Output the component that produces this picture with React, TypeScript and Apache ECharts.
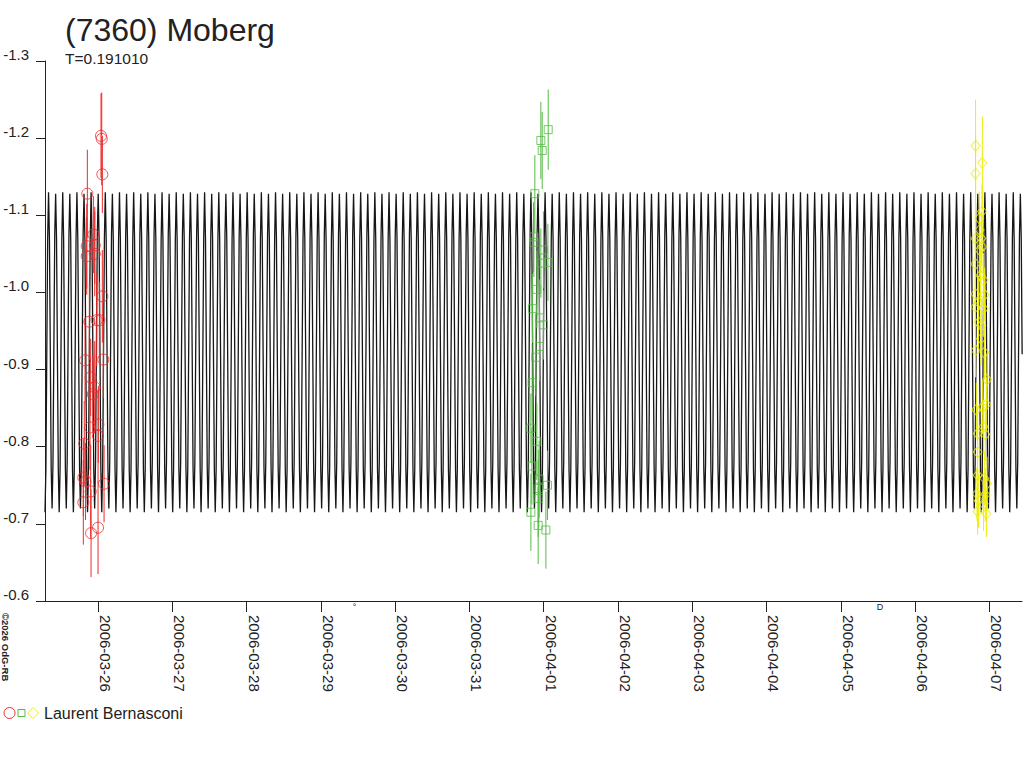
import React, { useEffect, useRef } from "react";
import * as echarts from "echarts";

// Time unit: day number counted from 2006-03-00 (so 32 = 2006-04-01)
const X_MIN = 25.286;
const X_MAX = 38.44;
const TICK_DAYS = [26, 27, 28, 29, 30, 31, 32, 33, 34, 35, 36, 37, 38];
const Y_MIN = -1.3;
const Y_MAX = -0.6;

// Model light curve: period (days) and one period's shape (magnitude)
const PERIOD = 0.19101;
const EPOCH = 25.286;
const CYCLE_SHAPE = [
  -0.715, -0.77, -0.92, -1.07, -1.13, -1.07, -0.92, -0.77,
  -0.72, -0.78, -0.93, -1.075, -1.128, -1.07, -0.92, -0.77,
];

// Session 1 (red circles)
const redTime = [26.05, 26.04, 26.058, 25.856, 25.937, 25.848, 25.956, 25.848, 25.956, 26.058, 25.883, 25.982, 26.018, 25.825, 26.071, 25.901, 25.955, 25.93, 25.892, 26.004, 26.0, 25.815, 25.802, 25.832, 25.901, 26.081, 25.802, 26.0, 25.906];
const redMag = [-1.199, -1.203, -1.153, -1.128, -1.075, -1.06, -1.061, -1.047, -1.05, -0.995, -0.962, -0.964, -0.964, -0.912, -0.913, -0.89, -0.877, -0.868, -0.825, -0.829, -0.814, -0.804, -0.76, -0.755, -0.742, -0.752, -0.728, -0.695, -0.688];
const redErr = [0.06, 0.055, 0.05, 0.057, 0.05, 0.055, 0.05, 0.05, 0.055, 0.06, 0.05, 0.06, 0.05, 0.055, 0.05, 0.05, 0.06, 0.05, 0.055, 0.05, 0.06, 0.055, 0.05, 0.05, 0.06, 0.05, 0.055, 0.06, 0.057];

// Session 2 (green squares)
const greenTime = [32.061, 31.962, 31.98, 31.881, 31.863, 31.868, 31.997, 31.962, 32.057, 31.908, 31.849, 31.943, 31.997, 31.943, 31.895, 31.845, 31.828, 31.908, 31.841, 31.939, 32.051, 31.934, 31.926, 31.828, 31.926, 32.03];
const greenMag = [-1.211, -1.197, -1.184, -1.128, -1.072, -1.065, -1.055, -1.038, -1.039, -1.004, -0.979, -0.967, -0.958, -0.93, -0.916, -0.883, -0.824, -0.807, -0.775, -0.758, -0.75, -0.746, -0.733, -0.715, -0.698, -0.692];
const greenErr = [0.052, 0.05, 0.05, 0.05, 0.045, 0.045, 0.05, 0.045, 0.05, 0.05, 0.045, 0.05, 0.045, 0.045, 0.05, 0.05, 0.045, 0.05, 0.05, 0.05, 0.045, 0.05, 0.05, 0.05, 0.05, 0.05];

// Session 3 (yellow diamonds)
const yellowTime = [37.815, 37.906, 37.815, 37.902, 37.865, 37.869, 37.812, 37.892, 37.902, 37.869, 37.812, 37.879, 37.923, 37.812, 37.937, 37.856, 37.923, 37.812, 37.856, 37.892, 37.888, 37.815, 37.933, 37.969, 37.825, 37.96, 37.906, 37.923, 37.842, 37.946, 37.842, 37.842, 37.933, 37.969, 37.834, 37.946, 37.856, 37.923, 37.842, 37.96];
const yellowMag = [-1.19, -1.168, -1.154, -1.105, -1.096, -1.081, -1.07, -1.07, -1.059, -1.055, -1.037, -1.022, -1.016, -0.998, -0.997, -0.987, -0.979, -0.981, -0.961, -0.957, -0.94, -0.925, -0.922, -0.887, -0.848, -0.855, -0.851, -0.826, -0.817, -0.816, -0.793, -0.763, -0.759, -0.752, -0.739, -0.738, -0.73, -0.726, -0.716, -0.713];
const yellowErr = [0.06, 0.06, 0.05, 0.035, 0.035, 0.035, 0.035, 0.035, 0.035, 0.035, 0.035, 0.035, 0.035, 0.035, 0.035, 0.035, 0.035, 0.035, 0.035, 0.035, 0.035, 0.035, 0.035, 0.035, 0.035, 0.035, 0.035, 0.035, 0.035, 0.035, 0.035, 0.035, 0.035, 0.035, 0.035, 0.035, 0.035, 0.035, 0.03, 0.03];

// Moon phases: new moon 2006-03-29 10:15, first quarter 2006-04-05 12:01
const moonTime = [29.427, 36.5];
const moonGlyph = ["°", "D"];

const OBSERVER = "Laurent Bernasconi";
const TITLE = "(7360) Moberg";
const SUBTITLE = "T=0.191010";
const COPYRIGHT = "©2026 OdG-RB";

const RED = "#ee2a2a";
const GREEN = "#55bb44";
const YELLOW = "#eeee00";
const INK = "#222222";
const CURVE = "#161616";
const FONT = "'Liberation Sans', Arial, Helvetica, sans-serif";

function dayLabel(v: number): string {
  const d = Math.round(v);
  const pad = (n: number) => (n < 10 ? "0" + n : "" + n);
  if (d <= 31) return "2006-03-" + pad(d);
  return "2006-04-" + pad(d - 31);
}

function buildModel(): number[][] {
  const out: number[][] = [];
  const n = CYCLE_SHAPE.length;
  const step = PERIOD / n;
  let i = 0;
  for (let t = EPOCH; t <= X_MAX + step; t += step) {
    out.push([t, CYCLE_SHAPE[i % n]]);
    i++;
  }
  return out;
}

function pts(t: number[], m: number[]) {
  return t.map((x, i) => [x, m[i]]);
}
function bars(t: number[], m: number[], e: number[]) {
  return t.map((x, i) => [x, m[i] - e[i], m[i] + e[i]]);
}

function errorSeries(data: number[][], color: string) {
  return {
    type: "custom",
    z: 3,
    silent: true,
    encode: { x: 0, y: [1, 2] },
    data,
    renderItem: (params: any, api: any) => {
      const x = api.value(0);
      const p1 = api.coord([x, api.value(1)]);
      const p2 = api.coord([x, api.value(2)]);
      return {
        type: "line",
        shape: { x1: p1[0], y1: p1[1], x2: p2[0], y2: p2[1] },
        style: { stroke: color, lineWidth: 1 },
      };
    },
  };
}

export default function App() {
  const ref = useRef<HTMLDivElement>(null);
  useEffect(() => {
    if (!ref.current) return;
    const chart = echarts.init(ref.current, undefined, { renderer: "svg" });
    const option: any = {
      animation: false,
      backgroundColor: "#ffffff",
      textStyle: { fontFamily: FONT },
      grid: { left: 45, right: 2, top: 61, bottom: 167, containLabel: false },
      xAxis: {
        type: "value",
        min: X_MIN,
        max: X_MAX,
        axisLine: { show: true, onZero: false, lineStyle: { color: INK, width: 1 } },
        axisTick: { show: true, length: 11, customValues: TICK_DAYS, lineStyle: { color: INK } },
        axisLabel: {
          show: true,
          customValues: TICK_DAYS,
          rotate: -90,
          margin: 14,
          verticalAlign: "bottom",
          color: INK,
          fontSize: 15,
          fontFamily: FONT,
          formatter: (v: number) => dayLabel(v),
        },
        splitLine: { show: false },
      },
      yAxis: {
        type: "value",
        inverse: true,
        min: Y_MIN,
        max: Y_MAX,
        interval: 0.1,
        axisLine: { show: true, lineStyle: { color: INK, width: 1 } },
        axisTick: { show: true, length: 9, lineStyle: { color: INK } },
        axisLabel: {
          margin: 16,
          verticalAlign: "bottom",
          lineHeight: 13,
          color: INK,
          fontSize: 15,
          fontFamily: FONT,
          formatter: (v: number) => v.toFixed(1),
        },
        splitLine: { show: false },
      },
      series: [
        {
          type: "line",
          z: 2,
          data: buildModel(),
          showSymbol: false,
          symbol: "none",
          lineStyle: { color: CURVE, width: 1.3 },
          silent: true,
        },
        errorSeries(bars(redTime, redMag, redErr), RED),
        errorSeries(bars(greenTime, greenMag, greenErr), GREEN),
        errorSeries(bars(yellowTime, yellowMag, yellowErr), YELLOW),
        {
          type: "scatter",
          z: 4,
          symbol: "circle",
          symbolSize: 11,
          data: pts(redTime, redMag),
          itemStyle: { color: "rgba(0,0,0,0)", borderColor: RED, borderWidth: 1 },
        },
        {
          type: "scatter",
          z: 4,
          symbol: "rect",
          symbolSize: 8,
          data: pts(greenTime, greenMag),
          itemStyle: { color: "rgba(0,0,0,0)", borderColor: GREEN, borderWidth: 1 },
        },
        {
          type: "scatter",
          z: 4,
          symbol: "diamond",
          symbolSize: [9, 11],
          data: pts(yellowTime, yellowMag),
          itemStyle: { color: "rgba(0,0,0,0)", borderColor: YELLOW, borderWidth: 1 },
        },
      ],
    };
    chart.setOption(option);

    const moonGraphics = moonTime.map((t, i) => {
      const px = chart.convertToPixel({ xAxisIndex: 0 }, t) as number;
      return {
        type: "text",
        x: px + 2,
        y: 607,
        style: {
          text: moonGlyph[i],
          fill: INK,
          font: "9px " + FONT,
          align: "center",
          verticalAlign: "middle",
        },
      };
    });

    chart.setOption({
      graphic: [
        {
          type: "text",
          x: 65,
          y: 30,
          style: { text: TITLE, fill: INK, font: "32px " + FONT, verticalAlign: "middle" },
        },
        {
          type: "text",
          x: 65,
          y: 58,
          style: { text: SUBTITLE, fill: INK, font: "15.5px " + FONT, verticalAlign: "middle" },
        },
        {
          type: "text",
          x: 5,
          y: 613,
          rotation: -Math.PI / 2,
          style: { text: COPYRIGHT, fill: INK, font: "bold 9.5px " + FONT, align: "left", verticalAlign: "middle" },
        },
        {
          type: "circle",
          shape: { cx: 9.5, cy: 713, r: 5.5 },
          style: { fill: "none", stroke: RED, lineWidth: 1 },
        },
        {
          type: "rect",
          shape: { x: 18, y: 709.5, width: 7, height: 7 },
          style: { fill: "none", stroke: GREEN, lineWidth: 1 },
        },
        {
          type: "polygon",
          shape: { points: [[33, 707.5], [38.5, 713], [33, 718.5], [27.5, 713]] },
          style: { fill: "none", stroke: YELLOW, lineWidth: 1 },
        },
        {
          type: "text",
          x: 44,
          y: 713,
          style: { text: OBSERVER, fill: INK, font: "16px " + FONT, verticalAlign: "middle" },
        },
        ...moonGraphics,
      ],
    });

    return () => chart.dispose();
  }, []);
  return (
    <div
      ref={ref}
      style={{ position: "fixed", left: 0, top: 0, width: 1024, height: 768, background: "#fff" }}
    />
  );
}
